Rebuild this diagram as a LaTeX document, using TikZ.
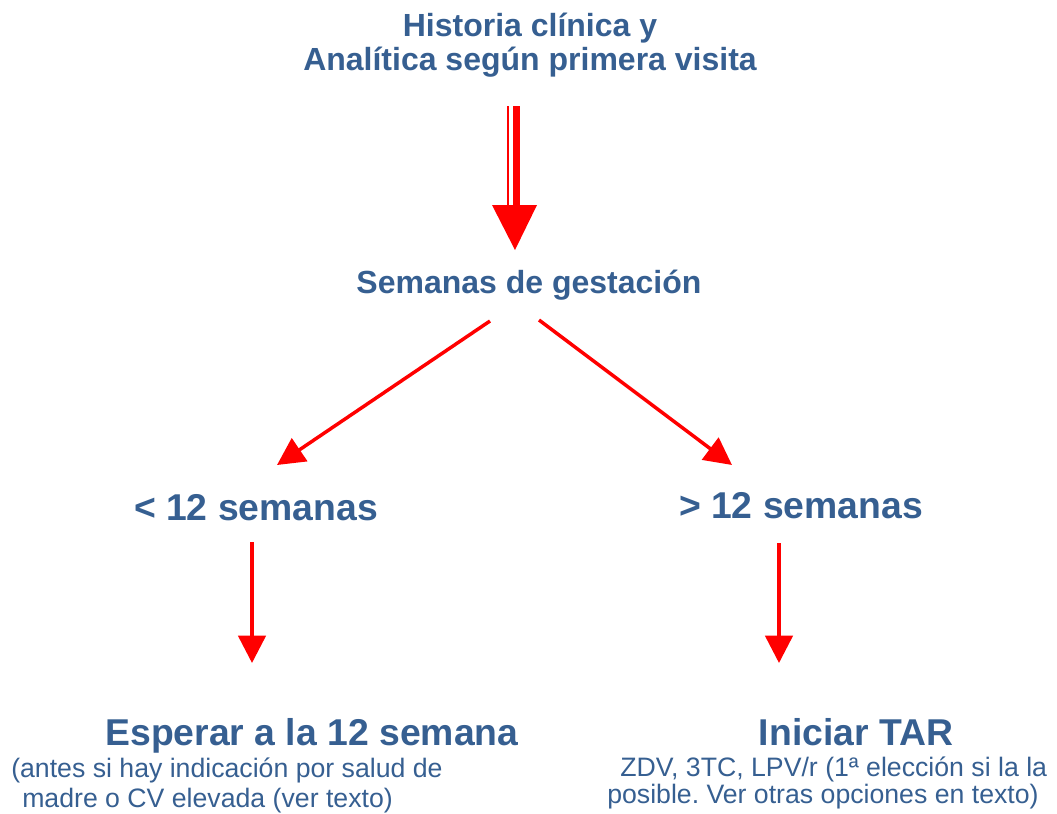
\documentclass[tikz,border=0pt]{standalone}
\usepackage{fontspec}
\setmainfont{Liberation Sans}
\usetikzlibrary{arrows.meta}
\frenchspacing
\definecolor{txtblue}{RGB}{54,95,145}
\definecolor{arrred}{RGB}{255,0,0}
\tikzset{
  lbl/.style={inner sep=0pt, text=txtblue, anchor=base},
  hmid/.style={lbl, font=\bfseries\fontsize{24}{25.5}\selectfont, align=center},
  hbig/.style={lbl, font=\bfseries\fontsize{28}{30}\selectfont},
  sub/.style={lbl, anchor=base west, align=left},
  conn/.style={draw=arrred, line width=2.6pt, -{Triangle[width=20.5pt,length=20.5pt]}},
}
\begin{document}
\begin{tikzpicture}[x=0.75pt,y=-0.75pt]
\useasboundingbox (0,0) rectangle (1057,814);

% texts
\node[hmid] (hist) at (530,70) {Historia clínica y\\Analítica según primera visita};
\node[hmid] (sem) at (529,293) {Semanas de gestación};
\node[hbig] (lt) at (256,520) {< 12 semanas};
\node[hbig] (gt) at (801,518) {> 12 semanas};
\node[hbig] (esp) at (312,745) {Esperar a la 12 semana};
\node[sub, font=\fontsize{20}{22.5}\selectfont] (espsub) at (11,807) {(antes si hay indicación por salud de\\\hspace{8.25pt}madre o CV elevada (ver texto)};
\node[hbig] (ini) at (856,745) {Iniciar TAR};
\node[sub, font=\fontsize{20}{20}\selectfont] (inisub) at (607,803) {\hspace{9.75pt}ZDV, 3TC, LPV/r (1ª elección si la la\\posible. Ver otras opciones en texto)};

% connector end points
\coordinate (h1) at (516.5,106);
\coordinate (h2) at (516.5,206);
\coordinate (h3) at (508,106);
\coordinate (h4) at (508,206);
\coordinate (hl) at (492,205);
\coordinate (hr) at (537,205);
\coordinate (ht) at (515,250);
\coordinate (s1) at (490,321);
\coordinate (s2) at (539,320);
\coordinate (l1) at (277,465);
\coordinate (g1) at (732,465);
\coordinate (l2) at (252,542);
\coordinate (l3) at (252,663);
\coordinate (g2) at (779,543);
\coordinate (g3) at (779,663);

% top double arrow
\draw[arrred, line width=5.25pt] (h1) -- (h2);
\draw[arrred, line width=1.5pt] (h3) -- (h4);
\fill[arrred] (hl) -- (hr) -- (ht) -- cycle;

% branches
\draw[conn] (s1) -- (l1);
\draw[conn] (s2) -- (g1);
\draw[conn] (l2) -- (l3);
\draw[conn] (g2) -- (g3);
\end{tikzpicture}
\end{document}
